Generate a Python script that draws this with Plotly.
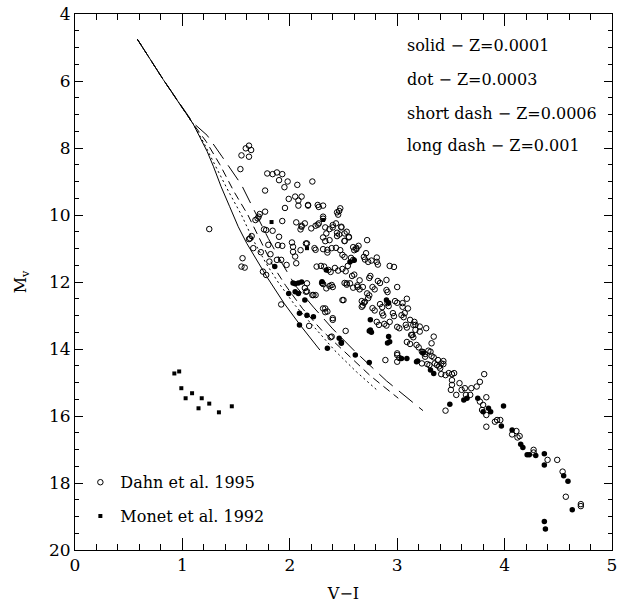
import plotly.graph_objects as go

# ---------------- data ----------------
# isochrones (V-I, Mv)
iso_solid = [(0.58,4.75),(0.82,5.95),(1.10,7.28),(1.17,7.70),(1.23,8.10),(1.29,8.56),(1.36,9.15),
             (1.44,9.75),(1.52,10.35),(1.60,10.85),(1.70,11.40),(1.785,11.84),(1.95,12.65),
             (2.10,13.30),(2.28,14.03)]
iso_dot = [(0.58,4.75),(0.82,5.95),(1.10,7.28),(1.20,7.85),(1.31,8.55),(1.43,9.30),(1.55,10.00),
           (1.66,10.75),(1.78,11.45),(1.89,12.00),(2.05,12.70),(2.23,13.35),(2.42,14.05),
           (2.62,14.68),(2.81,15.22)]
iso_sdash = [(0.58,4.75),(0.82,5.95),(1.10,7.28),(1.22,7.80),(1.35,8.50),(1.48,9.30),(1.61,10.00),
             (1.73,10.80),(1.84,11.50),(1.96,12.10),(2.12,12.80),(2.30,13.45),(2.50,14.05),
             (2.75,14.80),(3.01,15.47)]
iso_ldash = [(0.58,4.75),(0.82,5.95),(1.10,7.25),(1.23,7.62),(1.37,8.26),(1.55,9.10),(1.69,10.00),
             (1.80,10.70),(1.92,11.40),(2.05,12.10),(2.22,12.75),(2.40,13.40),(2.60,14.05),
             (2.90,14.95),(3.24,15.84)]

# Dahn et al. 1995 (open circles)
dahn_open = [
 (1.62,7.93),(1.59,8.01),(1.64,8.06),(1.55,8.22),(1.62,8.26),(1.54,8.63),
 (1.79,8.76),(1.84,8.78),(1.88,8.73),(1.93,8.78),(1.90,8.96),(1.98,9.00),(1.95,9.17),(2.07,9.10),
 (2.21,9.00),(1.77,9.27),(1.99,9.52),(2.05,9.45),(2.11,9.45),(2.08,9.57),(1.955,9.79),(2.08,9.72),
 (2.17,9.72),(2.27,9.76),(2.31,9.72),(2.47,9.80),(2.46,9.88),(2.45,9.99),(2.31,10.11),(1.93,10.18),
 (1.76,10.43),(1.84,10.47),(2.06,10.22),(2.11,10.32),(2.14,10.25),(2.10,10.43),(2.20,10.40),
 (2.24,10.32),(2.27,10.25),(2.33,10.37),(2.37,10.42),(2.43,10.25),(2.40,10.37),(2.48,10.37),
 (2.53,10.50),(1.90,10.65),(1.645,10.63),(1.62,10.72),(2.02,10.82),(2.15,10.85),(2.31,10.67),
 (2.37,10.75),(2.44,10.63),(2.55,10.67),(2.51,10.78),(2.72,10.75),(1.89,10.90),(1.93,10.92),
 (2.10,11.05),(2.03,11.10),(2.23,10.99),(2.31,11.02),(2.39,10.99),(2.35,11.12),(2.47,11.05),
 (2.59,10.96),(2.62,11.02),(2.71,11.14),(2.81,11.27),(1.66,10.99),(1.73,11.11),(1.25,10.42),
 (1.56,11.29),(1.55,11.54),(1.58,11.57),(1.63,10.70),(1.68,10.15),(1.71,10.05),(1.72,9.97),
 (1.70,10.10),(1.77,9.90),(1.78,10.45),(1.80,10.89),(1.82,11.17),(1.81,11.39),(1.75,11.69),
 (1.78,11.79),(1.88,11.34),(1.92,11.34),(1.97,11.49),(1.92,12.67),(2.03,10.95),(2.05,11.24),
 (2.06,11.44),(2.16,12.04),(2.15,12.29),(2.22,12.39),(2.24,12.39),(2.18,13.31),(2.25,11.54),
 (2.29,11.52),(2.32,11.54),(2.31,12.06),(2.34,12.19),(2.39,12.09),(2.31,12.79),(2.33,12.90),
 (2.35,12.88),(2.40,13.13),(2.38,13.65),(2.52,13.46),(2.49,12.54),(2.53,12.04),(2.56,12.04),
 (2.59,12.17),(2.63,12.10),(2.65,11.95),(2.70,12.59),(2.67,12.74),(2.68,12.70),(2.72,12.34),
 (2.74,12.40),(2.89,14.33),(3.00,14.13),
 (2.17,9.70),(2.26,9.70),(2.44,9.92),(2.31,10.05),(2.11,10.35),(2.26,10.29),(2.40,10.30),
 (2.44,10.53),(2.46,10.58),(2.34,10.55),(2.48,10.35),(2.51,10.55),(2.55,10.65),(2.62,10.98),
 (2.60,11.05),(2.64,10.92),(2.51,10.77),(2.33,10.78),(2.16,10.85),(2.24,11.04),(2.35,11.04),
 (2.43,10.98),(2.49,11.19),(2.51,11.25),(2.57,11.28),(2.59,11.34),(2.69,11.25),(2.70,11.33),
 (2.73,11.40),(2.76,11.36),(2.81,11.40),(2.82,11.48),(2.93,11.52),(2.97,11.55),(2.36,11.64),
 (2.38,11.70),(2.42,11.58),(2.45,11.66),(2.49,11.61),(2.52,11.68),(2.54,11.52),(2.58,11.82),
 (2.60,11.78),(2.51,12.03),(2.53,12.08),(2.63,12.15),(2.65,12.22),(2.68,12.15),(2.74,11.88),
 (2.75,11.82),(2.77,12.15),(2.79,12.22),(2.82,11.97),(2.84,12.03),(2.90,12.24),(2.91,12.30),
 (2.90,11.94),(3.00,12.15),(2.30,12.03),(2.37,12.12),(2.40,12.15),(2.14,12.18),(2.16,12.28),
 (2.21,12.39),(2.50,12.54),(2.67,12.57),(2.69,12.62),(2.73,12.48),(2.77,12.78),(2.79,12.85),
 (2.84,12.66),(2.86,12.75),(2.91,12.63),(2.92,12.72),(2.98,12.57),(3.00,12.62),(3.05,12.63),
 (3.09,12.50),(3.10,12.79),(2.96,12.93),(2.97,13.02),(3.04,12.99),(3.06,13.05),(2.86,12.93),
 (2.87,13.00),(2.81,13.19),(2.83,13.28),(2.88,13.25),(2.90,13.30),(2.93,13.19),(3.00,13.34),
 (3.02,13.38),(3.08,13.28),(3.09,13.36),(3.16,13.19),(3.17,13.28),(3.21,13.33),(3.27,13.38),
 (3.34,13.63),(3.32,13.83),(3.14,13.58),(3.15,13.65),(3.09,13.79),(3.12,13.85),(3.18,13.88),
 (3.20,13.95),(3.24,14.09),(3.26,14.15),(3.29,14.05),(3.32,14.21),(3.34,14.25),(3.00,14.18),
 (3.02,14.27),(3.28,14.45),(3.30,14.48),(3.37,14.48),(3.39,14.52),(3.43,14.36),(3.43,14.45),
 (3.48,14.72),(3.53,14.72),(2.33,12.79),(2.40,13.08),(2.39,13.63),
 (3.05,12.74),(3.07,12.93),(3.12,13.13),(3.15,13.28),(3.17,13.43),(3.13,13.58),(3.21,13.48),
 (3.00,14.38),(3.23,14.08),(3.31,14.08),(3.23,14.43),(3.26,14.23),(3.35,14.43),(3.38,14.33),
 (3.41,14.43),(3.40,14.58),(3.41,14.75),(3.45,14.78),(3.51,14.75),(3.51,14.93),(3.51,15.07),
 (3.50,15.22),(3.58,15.02),(3.60,15.22),(3.63,15.17),(3.55,15.37),(3.64,15.37),(3.68,15.37),
 (3.69,15.17),(3.74,15.12),(3.77,14.98),(3.81,14.75),(3.45,15.84),(3.77,15.57),(3.80,15.67),
 (3.83,15.44),(3.79,15.82),(3.83,15.97),(3.83,16.32),(3.91,16.17),(3.93,16.12),(3.96,16.12),
 (4.07,16.55),(4.11,16.45),(4.14,16.60),(4.12,16.64),(4.27,17.01),(4.27,17.09),(4.40,17.31),
 (4.49,17.31),(4.54,17.66),(4.57,18.41),(4.71,18.63),(4.71,18.69),
]

# Dahn et al. 1995 (filled circles)
dahn_filled = [
 (1.86,11.54),(2.03,12.03),(2.05,12.05),(2.08,12.03),(2.11,12.00),(1.99,12.34),(2.05,12.29),
 (2.08,12.34),(2.14,12.54),(2.09,12.93),(2.16,12.99),(2.22,13.04),(2.09,13.28),(2.34,11.64),
 (2.46,13.68),(2.48,13.80),(2.35,13.98),(2.61,14.18),(2.74,14.40),(2.75,13.43),(2.48,13.83),
 (2.30,11.99),(2.56,11.40),(2.60,11.35),(2.75,13.13),(2.74,13.46),(2.76,13.50),(2.91,13.82),
 (2.90,12.54),(2.92,12.62),(3.24,14.12),(3.19,14.36),(2.92,13.63),(2.93,13.78),(3.31,14.63),
 (3.34,14.73),(3.18,14.38),(3.04,14.28),(3.09,14.28),(3.49,15.65),(3.62,15.52),(3.65,15.47),
 (3.75,15.47),(3.80,15.87),(3.85,15.77),(3.87,15.87),(3.99,15.70),(3.97,16.30),(4.07,16.42),
 (4.15,16.84),(4.17,16.94),(4.21,17.16),(4.23,17.16),(4.29,17.18),(4.37,17.13),(4.37,17.46),
 (4.55,17.78),(4.59,17.95),(4.63,18.80),(4.37,19.15),(4.38,19.37),
]

# Monet et al. 1992 (filled squares)
monet = [(0.925,14.73),(0.97,14.67),(0.99,15.17),(1.03,15.47),(1.09,15.32),(1.18,15.47),
         (1.15,15.77),(1.25,15.63),(1.34,15.89),(1.46,15.71),(1.83,10.21),(2.16,10.99),(2.31,10.15)]

iso_labels = ["solid \u2212 Z=0.0001", "dot \u2212 Z=0.0003",
              "short dash \u2212 Z=0.0006", "long dash \u2212 Z=0.001"]

# ---------------- figure ----------------
FONT = "DejaVu Serif"
fig = go.Figure()

def xs(p): return [a for a, b in p]
def ys(p): return [b for a, b in p]

for pts, dash in [(iso_solid, "solid"), (iso_dot, "2px,3px"),
                  (iso_sdash, "8px,5px"), (iso_ldash, "18px,8px")]:
    fig.add_trace(go.Scatter(x=xs(pts), y=ys(pts), mode="lines",
                             line=dict(color="black", width=1, dash=dash),
                             showlegend=False, hoverinfo="skip"))

fig.add_trace(go.Scatter(x=xs(dahn_open), y=ys(dahn_open), mode="markers",
                         name="Dahn et al. 1995", legendgroup="a",
                         marker=dict(symbol="circle-open", size=5.5, color="black",
                                     line=dict(width=1, color="black"))))
fig.add_trace(go.Scatter(x=xs(dahn_filled), y=ys(dahn_filled), mode="markers",
                         showlegend=False,
                         marker=dict(symbol="circle", size=5.5, color="black")))
fig.add_trace(go.Scatter(x=xs(monet), y=ys(monet), mode="markers",
                         name="Monet et al. 1992", legendgroup="b",
                         marker=dict(symbol="square", size=4, color="black")))

ypos = [0.942, 0.877, 0.815, 0.754]
for t, yy in zip(iso_labels, ypos):
    fig.add_annotation(text=t, x=0.6145, y=yy, xref="paper", yref="paper",
                       xanchor="left", yanchor="middle", showarrow=False,
                       font=dict(family=FONT, size=16, color="black"))

axis_common = dict(showline=True, linecolor="black", linewidth=1, mirror="allticks",
                   ticks="inside", tickcolor="black", showgrid=False, zeroline=False,
                   automargin=False,
                   tickfont=dict(family=FONT, size=17, color="black"))

fig.update_xaxes(range=[0, 5], dtick=1, tick0=0, ticklen=12,
                 minor=dict(dtick=0.2, ticklen=6, ticks="inside", tickcolor="black"),
                 title=dict(text="V\u2212I", font=dict(family=FONT, size=16, color="black"),
                            standoff=18),
                 **axis_common)
fig.update_yaxes(range=[20, 4], dtick=2, tick0=4, ticklen=8,
                 minor=dict(dtick=0.5, ticklen=4, ticks="inside", tickcolor="black"),
                 title=dict(text="M<sub>v</sub>", font=dict(family=FONT, size=16, color="black"),
                            standoff=18),
                 **axis_common)

fig.update_layout(width=623, height=603,
                  margin=dict(l=75, r=11, t=14, b=53),
                  plot_bgcolor="white", paper_bgcolor="white",
                  showlegend=True,
                  legend=dict(x=0.01, y=0.158, xanchor="left", yanchor="top",
                              bgcolor="rgba(0,0,0,0)", traceorder="grouped",
                              tracegroupgap=10,
                              font=dict(family=FONT, size=16, color="black")))

fig.write_html("out.html")
